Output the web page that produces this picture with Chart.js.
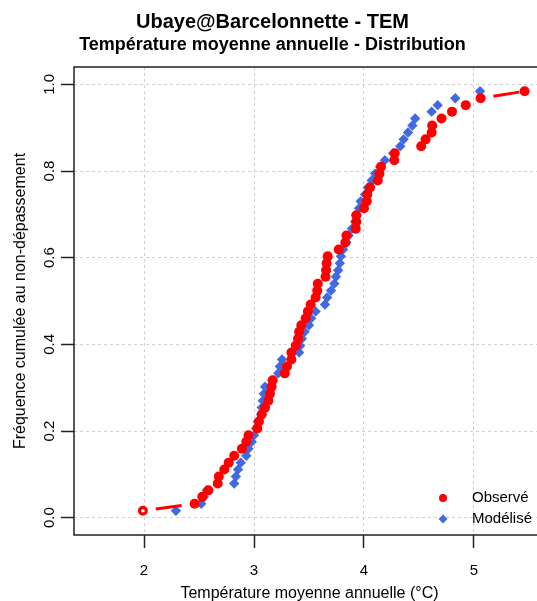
<!DOCTYPE html>
<html>
<head>
<meta charset="utf-8">
<script src="https://cdn.jsdelivr.net/npm/chart.js@4.4.0/dist/chart.umd.min.js"></script>
<style>
  html, body { margin: 0; padding: 0; background: #fff; overflow: hidden; }
  #wrap { width: 537px; height: 601px; overflow: hidden; }
</style>
</head>
<body>
<div id="wrap"><canvas id="c" width="600" height="601"></canvas></div>
<script>
// Ubaye@Barcelonnette - annual mean temperature, empirical distribution

const FONT = "'Liberation Sans', Arial, Helvetica, sans-serif";

// cumulative frequency (plotting position) of each sorted value
const freq = [0.016, 0.032, 0.048, 0.063, 0.079, 0.095, 0.111, 0.127, 0.143, 0.159,
              0.175, 0.190, 0.206, 0.222, 0.238, 0.254, 0.270, 0.286, 0.302, 0.317,
              0.333, 0.349, 0.365, 0.381, 0.397, 0.413, 0.429, 0.444, 0.460, 0.476,
              0.492, 0.508, 0.524, 0.540, 0.556, 0.571, 0.587, 0.603, 0.619, 0.635,
              0.651, 0.667, 0.683, 0.698, 0.714, 0.730, 0.746, 0.762, 0.778, 0.794,
              0.810, 0.825, 0.841, 0.857, 0.873, 0.889, 0.905, 0.921, 0.937, 0.952,
              0.968, 0.984];

// observed temperatures (°C), sorted
const observed = [1.99, 2.46, 2.53, 2.585, 2.67, 2.68, 2.73, 2.77, 2.82, 2.89,
                  2.93, 2.95, 3.03, 3.045, 3.07, 3.10, 3.13, 3.145, 3.16, 3.17,
                  3.28, 3.30, 3.34, 3.34, 3.38, 3.40, 3.41, 3.43, 3.47, 3.49,
                  3.515, 3.56, 3.575, 3.58, 3.65, 3.655, 3.66, 3.67, 3.77, 3.83,
                  3.84, 3.925, 3.93, 3.93, 4.00, 4.025, 4.03, 4.055, 4.125, 4.14,
                  4.155, 4.275, 4.28, 4.52, 4.56, 4.615, 4.62, 4.705, 4.80, 4.925,
                  5.06, 5.46];

// modelled temperatures (°C), sorted
const modeled = [2.29, 2.52, 2.545, 2.57, 2.82, 2.835, 2.855, 2.88, 2.93, 2.95,
                 2.98, 3.00, 3.02, 3.035, 3.065, 3.07, 3.08, 3.09, 3.10, 3.165,
                 3.22, 3.235, 3.255, 3.41, 3.42, 3.435, 3.46, 3.50, 3.52, 3.56,
                 3.645, 3.665, 3.70, 3.73, 3.745, 3.765, 3.78, 3.79, 3.81, 3.84,
                 3.86, 3.89, 3.92, 3.93, 3.955, 3.97, 4.01, 4.035, 4.07, 4.10,
                 4.145, 4.19, 4.265, 4.33, 4.36, 4.40, 4.44, 4.465, 4.615, 4.67,
                 4.83, 5.055];

const xTicks = [2, 3, 4, 5];
const yTicks = [0, 0.2, 0.4, 0.6, 0.8, 1.0];

const RED = '#ff0000';
const BLUE = '#4169e1';

function toPoints(xs) {
    return xs.map((x, i) => ({ x: x, y: freq[i] }));
}

// the dashes only show between the two end pairs, the rest is hidden under the dots
function dashVisible(ctx) {
    return ctx.p0DataIndex === 0 || ctx.p1DataIndex === observed.length - 1;
}

// box, rotated y tick labels and R-like legend
const rStyle = {
    id: 'rStyle',
    afterDraw(chart) {
        const ctx = chart.ctx;
        const area = chart.chartArea;
        const ys = chart.scales.y;

        ctx.save();
        ctx.strokeStyle = '#222';
        ctx.lineWidth = 1.5;
        ctx.strokeRect(area.left, area.top, area.right - area.left, area.bottom - area.top);

        // y tick labels, parallel to the axis
        ctx.fillStyle = '#000';
        ctx.font = '15px ' + FONT;
        ctx.textAlign = 'center';
        ctx.textBaseline = 'alphabetic';
        ys.ticks.forEach(t => {
            const py = ys.getPixelForValue(t.value);
            ctx.save();
            ctx.translate(area.left - 20, py);
            ctx.rotate(-Math.PI / 2);
            ctx.fillText(t.value.toFixed(1), 0, 0);
            ctx.restore();
        });

        // legend
        ctx.font = '15px ' + FONT;
        ctx.textAlign = 'left';
        ctx.textBaseline = 'middle';
        chart.data.datasets.forEach((ds, k) => {
            const mx = area.right - 102;
            const my = area.bottom - 37 + k * 21;
            ctx.fillStyle = ds.legendColor;
            ctx.beginPath();
            if (ds.pointStyle === 'rectRot') {
                const r = 4.5;
                ctx.moveTo(mx - r, my);
                ctx.lineTo(mx, my - r);
                ctx.lineTo(mx + r, my);
                ctx.lineTo(mx, my + r);
                ctx.closePath();
            } else {
                ctx.arc(mx, my, 4, 0, Math.PI * 2);
            }
            ctx.fill();
            ctx.fillStyle = '#000';
            ctx.fillText(ds.label, mx + 29, my);
        });
        ctx.restore();
    }
};

const gridOpts = {
    color: '#d0d0d0',
    lineWidth: 1,
    tickColor: '#222',
    tickWidth: 1.5,
    tickLength: 13
};

new Chart(document.getElementById('c'), {
    type: 'scatter',
    data: {
        datasets: [
            {
                label: 'Observé',
                data: toPoints(observed),
                legendColor: RED,
                showLine: true,
                borderColor: RED,
                borderWidth: 3,
                borderDash: [26, 18],
                borderDashOffset: 31,
                segment: {
                    borderColor: ctx => dashVisible(ctx) ? RED : 'rgba(0,0,0,0)'
                },
                pointStyle: 'circle',
                pointRadius: ctx => ctx.dataIndex === 0 ? 3.4 : 5,
                pointBackgroundColor: ctx => ctx.dataIndex === 0 ? '#fff' : RED,
                pointBorderColor: RED,
                pointBorderWidth: ctx => ctx.dataIndex === 0 ? 3.2 : 0
            },
            {
                label: 'Modélisé',
                data: toPoints(modeled),
                legendColor: BLUE,
                showLine: false,
                pointStyle: 'rectRot',
                pointRadius: 5.2,
                pointBackgroundColor: BLUE,
                pointBorderWidth: 0
            }
        ]
    },
    options: {
        responsive: false,
        animation: false,
        events: [],
        layout: { padding: { left: 0, right: 55, top: 0, bottom: 0 } },
        plugins: {
            legend: { display: false },
            tooltip: { enabled: false },
            title: {
                display: true,
                text: 'Ubaye@Barcelonnette - TEM',
                color: '#000',
                font: { family: FONT, size: 20, weight: 'bold' },
                padding: { top: 10, bottom: 0 }
            },
            subtitle: {
                display: true,
                text: 'Température moyenne annuelle - Distribution',
                color: '#000',
                font: { family: FONT, size: 18, weight: 'bold' },
                padding: { top: 0, bottom: 11.4 }
            }
        },
        scales: {
            x: {
                type: 'linear',
                min: 1.3636,
                max: 5.6455,
                afterBuildTicks: s => { s.ticks = xTicks.map(v => ({ value: v })); },
                afterFit: s => { s.height = 66; },
                grid: gridOpts,
                border: { display: false, dash: [3, 3] },
                ticks: {
                    color: '#000',
                    font: { family: FONT, size: 15 },
                    padding: 14,
                    maxRotation: 0,
                    autoSkip: false,
                    callback: v => String(v)
                },
                title: {
                    display: true,
                    text: 'Température moyenne annuelle (°C)',
                    color: '#000',
                    font: { family: FONT, size: 16, lineHeight: 1 },
                    padding: { top: 0, bottom: -1 }
                }
            },
            y: {
                type: 'linear',
                min: -0.04,
                max: 1.04,
                afterBuildTicks: s => { s.ticks = yTicks.map(v => ({ value: v })); },
                afterFit: s => { s.width = 74; },
                grid: gridOpts,
                border: { display: false, dash: [3, 3] },
                ticks: { display: false },
                title: {
                    display: true,
                    text: 'Fréquence cumulée au non-dépassement',
                    color: '#000',
                    font: { family: FONT, size: 16, lineHeight: 1 },
                    padding: { top: 13, bottom: 0 }
                }
            }
        }
    },
    plugins: [rStyle]
});
</script>
</body>
</html>
